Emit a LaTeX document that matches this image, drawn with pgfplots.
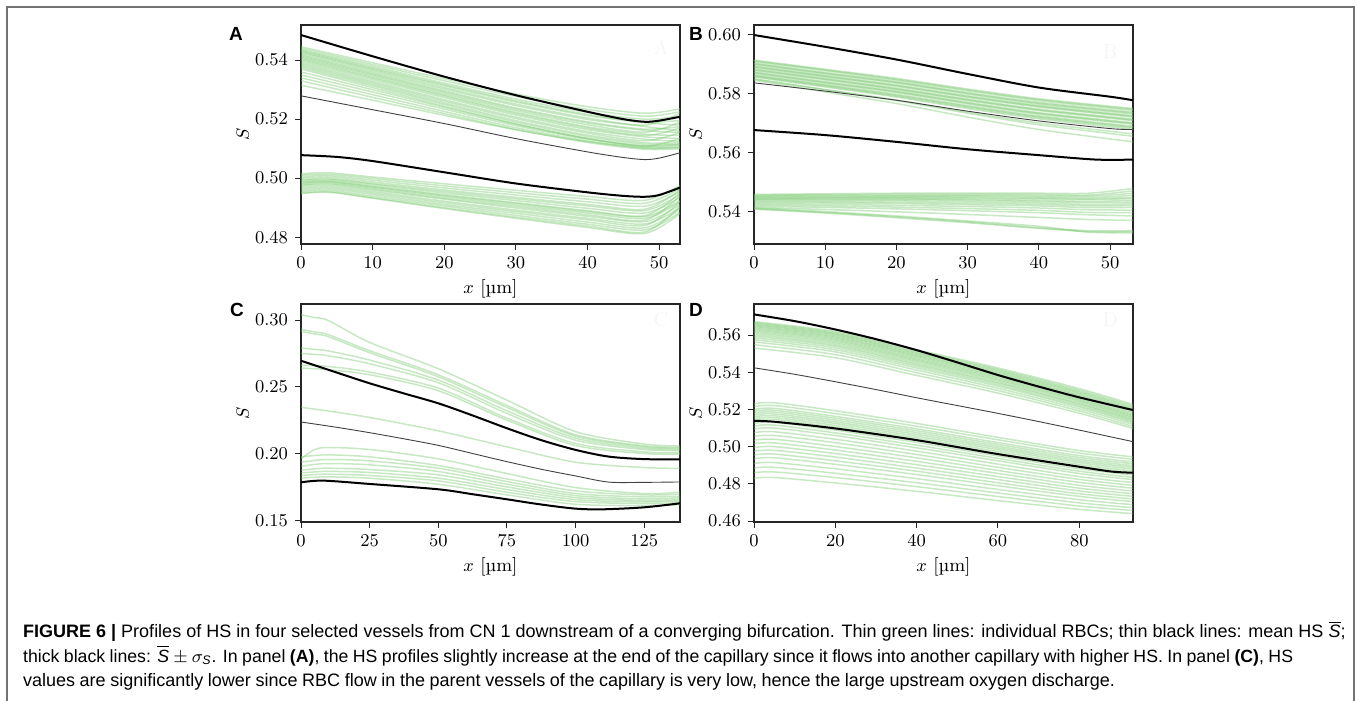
\documentclass[border=0pt]{standalone}
\usepackage{fontspec}
\usepackage{pgfplots}
\usepackage{pgfplotstable}
\pgfplotsset{compat=1.18}
\newfontfamily\capfont{Liberation Sans}
\definecolor{grn}{RGB}{120,200,110}

\pgfplotstableread{
x y1 y2 y3 y4 y5 y6 y7 y8 y9 y10 y11 y12 y13 y14 y15 y16 y17 y18 y19 y20 y21 y22 y23
0 .5445 .5440 .5435 .5432 .5428 .5425 .5420 .5416 .5412 .5408 .5404 .5400 .5395 .5390 .5385 .5380 .5375 .5370 .5360 .5350 .5340 .5330 .5315
10 .5391 .5385 .5379 .5374 .5370 .5366 .5361 .5356 .5352 .5348 .5343 .5339 .5334 .5328 .5323 .5318 .5313 .5307 .5300 .5292 .5283 .5274 .5264
20 .5337 .5330 .5322 .5317 .5313 .5307 .5302 .5296 .5292 .5287 .5282 .5278 .5273 .5266 .5261 .5255 .5250 .5244 .5240 .5234 .5226 .5219 .5213
30 .5285 .5277 .5268 .5262 .5258 .5251 .5246 .5238 .5234 .5229 .5223 .5219 .5214 .5207 .5202 .5195 .5190 .5184 .5183 .5178 .5171 .5165 .5164
40 .5242 .5233 .5223 .5216 .5212 .5204 .5199 .5191 .5187 .5181 .5174 .5170 .5165 .5158 .5153 .5146 .5141 .5134 .5135 .5132 .5126 .5121 .5124
48 .5220 .5210 .5200 .5192 .5188 .5180 .5175 .5166 .5162 .5156 .5149 .5145 .5140 .5132 .5127 .5120 .5115 .5108 .5110 .5108 .5102 .5098 .5103
52.9 .5235 .5225 .5210 .5195 .5180 .5220 .5160 .5175 .5155 .5190 .5145 .5170 .5135 .5125 .5155 .5120 .5115 .5135 .5115 .5110 .5105 .5100 .5105
}\Aup
\pgfplotstableread{
x y1 y2 y3 y4 y5 y6 y7 y8 y9 y10 y11 y12 y13 y14 y15 y16 y17
0 .5015 .5010 .5005 .5000 .4995 .4992 .4988 .4985 .4982 .4978 .4975 .4970 .4965 .4960 .4955 .4950 .4948
4 .5018 .5013 .5008 .5003 .4998 .4995 .4991 .4988 .4986 .4982 .4979 .4974 .4969 .4964 .4959 .4954 .4952
10 .5004 .4999 .4993 .4987 .4982 .4979 .4974 .4971 .4968 .4964 .4960 .4955 .4950 .4945 .4939 .4934 .4932
20 .4981 .4974 .4967 .4960 .4955 .4950 .4944 .4941 .4937 .4932 .4929 .4922 .4917 .4911 .4906 .4900 .4897
30 .4959 .4951 .4943 .4935 .4930 .4924 .4917 .4914 .4909 .4904 .4899 .4892 .4887 .4881 .4874 .4868 .4864
40 .4938 .4929 .4920 .4911 .4906 .4898 .4890 .4887 .4882 .4876 .4871 .4864 .4859 .4851 .4844 .4838 .4833
48 .4925 .4915 .4905 .4895 .4890 .4882 .4873 .4870 .4864 .4858 .4853 .4845 .4840 .4832 .4825 .4818 .4813
52.9 .4975 .4965 .4955 .4960 .4945 .4935 .4950 .4925 .4920 .4940 .4910 .4900 .4920 .4895 .4885 .4905 .4880
}\Alo
\pgfplotstableread{
x y1 y2 y3 y4 y5 y6 y7 y8 y9 y10 y11 y12 y13 y14 y15 y16 y17 y18 y19 y20 y21 y22
0 .5913 .5908 .5903 .5898 .5893 .5888 .5883 .5878 .5873 .5868 .5863 .5858 .5856 .5850 .5845 .5848 .59105 .59005 .58905 .58805 .58705 .58605
10 .5882 .5877 .5871 .5866 .5861 .5856 .5851 .5846 .5840 .5835 .5830 .5825 .5822 .5813 .5805 .5813 .58795 .58685 .58585 .58485 .58375 .58275
20 .5851 .5845 .5840 .5835 .5829 .5824 .5818 .5813 .5808 .5803 .5797 .5791 .5788 .5776 .5766 .5778 .5848 .58375 .58265 .58155 .58055 .5794
30 .5815 .5809 .5803 .5798 .5792 .5787 .5781 .5776 .5770 .5765 .5759 .5753 .5749 .5733 .5720 .5737 .5812 .58005 .57895 .57785 .57675 .5756
40 .5782 .5776 .5770 .5764 .5759 .5754 .5747 .5742 .5735 .5730 .5724 .5718 .5714 .5694 .5678 .5700 .5779 .5767 .57565 .57445 .57325 .5721
53.2 .5749 .5743 .5737 .5731 .5725 .5720 .5713 .5708 .5701 .5696 .5689 .5683 .5678 .5655 .5636 .5663 .5746 .5734 .57225 .57105 .56985 .5686
}\Bup
\pgfplotstableread{
x y1 y2 y3 y4 y5 y6 y7 y8 y9 y10 y11 y12 y13 y14 y15 y16 y17 y18
0 .5458 .5455 .5452 .5450 .5447 .5445 .5442 .5440 .5437 .5434 .5430 .5426 .5422 .5418 .5414 .5410 .5412 .5408
10 .5460 .5457 .5454 .5451 .5448 .5446 .5443 .5440 .5437 .5433 .5429 .5424 .5419 .5414 .5407 .5397 .5400 .5395
20 .5462 .5458 .5455 .5452 .5449 .5446 .5443 .5440 .5436 .5431 .5427 .5421 .5415 .5409 .5399 .5382 .5385 .5379
30 .5462 .5458 .5455 .5452 .5448 .5445 .5441 .5438 .5433 .5428 .5423 .5417 .5410 .5403 .5390 .5365 .5368 .5362
40 .5462 .5458 .5454 .5450 .5446 .5443 .5438 .5434 .5429 .5424 .5419 .5412 .5404 .5396 .5380 .5345 .5350 .5343
47 .5462 .5456 .5452 .5447 .5443 .5440 .5434 .5430 .5424 .5419 .5413 .5406 .5397 .5389 .5373 .5335 .5330 .5332
53.2 .5478 .5470 .5462 .5455 .5448 .5444 .5438 .5432 .5426 .5420 .5414 .5405 .5396 .5385 .5370 .5335 .5328 .5332
}\Blo
\pgfplotstableread{
x y1 y2 y3 y4 y5 y6 y7 y8 y9 y10 y11 y12 y13 y14 y15 y16
0 .3040 .2930 .2915 .2790 .2750 .2663 .2640 .2346 .1960 .1975 .1935 .1905 .1875 .1855 .1835 .1815
5 .3018 .2910 .2895 .2780 .2742 .2658 .2635 .2332 .2030 .1985 .1948 .1918 .1885 .1862 .1842 .1822
10 .2996 .2890 .2875 .2768 .2732 .2652 .2628 .2318 .2045 .1990 .1955 .1925 .1890 .1866 .1845 .1825
25 .2832 .2770 .2755 .2700 .2672 .2610 .2590 .2270 .2030 .1975 .1945 .1915 .1880 .1858 .1835 .1815
50 .2635 .2590 .2575 .2550 .2530 .2490 .2470 .2170 .1960 .1910 .1890 .1865 .1840 .1815 .1795 .1770
75 .2400 .2360 .2345 .2320 .2300 .2265 .2250 .2050 .1850 .1810 .1790 .1770 .1750 .1730 .1710 .1690
100 .2164 .2140 .2130 .2115 .2100 .2075 .2060 .1935 .1745 .1720 .1700 .1685 .1670 .1655 .1640 .1620
125 .2071 .2058 .2050 .2040 .2030 .2012 .2000 .1895 .1700 .1690 .1675 .1660 .1648 .1637 .1625 .1610
138 .2056 .2045 .2038 .2030 .2022 .2005 .1995 .1889 .1710 .1695 .1680 .1668 .1655 .1645 .1632 .1618
}\Cg
\pgfplotstableread{
x y1 y2 y3 y4 y5 y6 y7 y8 y9 y10 y11 y12 y13 y14 y15 y16 y17 y18 y19
0 .5672 .5667 .5662 .5657 .5652 .5647 .5642 .5636 .5630 .5624 .5617 .5610 .5602 .5594 .5585 .5575 .5563 .5548 .5530
20 .5619 .5613 .5608 .5603 .5598 .5592 .5587 .5581 .5575 .5569 .5562 .5555 .5547 .5540 .5531 .5521 .5510 .5495 .5478
40 .5521 .5515 .5509 .5503 .5498 .5492 .5487 .5481 .5474 .5468 .5462 .5455 .5447 .5440 .5432 .5423 .5412 .5398 .5383
60 .5423 .5416 .5410 .5404 .5398 .5392 .5387 .5380 .5374 .5368 .5361 .5355 .5347 .5341 .5333 .5325 .5314 .5302 .5288
80 .5312 .5304 .5297 .5291 .5285 .5278 .5273 .5266 .5259 .5253 .5247 .5241 .5233 .5228 .5220 .5213 .5203 .5192 .5180
93.2 .5227 .5219 .5212 .5205 .5199 .5192 .5186 .5179 .5172 .5166 .5160 .5154 .5147 .5142 .5135 .5128 .5119 .5108 .5098
}\Dup
\pgfplotstableread{
x y1 y2 y3 y4 y5 y6 y7 y8 y9 y10 y11 y12 y13 y14 y15 y16 y17 y18 y19 y20 y21 y22 y23 y24
0 .5230 .5215 .5200 .5190 .5180 .5170 .5160 .5150 .5140 .5125 .5110 .5095 .5075 .5055 .5035 .5015 .4995 .4975 .4955 .4935 .4910 .4885 .4860 .4830
5 .5236 .5221 .5206 .5196 .5186 .5176 .5166 .5156 .5146 .5131 .5116 .5100 .5080 .5060 .5040 .5020 .5000 .4980 .4960 .4940 .4914 .4889 .4864 .4834
20 .5193 .5178 .5163 .5153 .5143 .5133 .5124 .5114 .5104 .5089 .5074 .5060 .5040 .5021 .5001 .4982 .4963 .4944 .4924 .4905 .4881 .4857 .4834 .4805
40 .5125 .5110 .5096 .5086 .5076 .5066 .5056 .5046 .5037 .5023 .5008 .4994 .4976 .4958 .4940 .4921 .4903 .4885 .4868 .4850 .4828 .4806 .4785 .4760
60 .5050 .5037 .5022 .5012 .5002 .4993 .4984 .4974 .4964 .4950 .4937 .4924 .4906 .4889 .4872 .4856 .4839 .4823 .4806 .4790 .4770 .4751 .4732 .4710
80 .4979 .4966 .4952 .4942 .4932 .4923 .4914 .4904 .4894 .4881 .4868 .4856 .4839 .4824 .4808 .4792 .4777 .4762 .4747 .4733 .4715 .4698 .4681 .4663
93.2 .4945 .4932 .4918 .4908 .4898 .4889 .4880 .4870 .4861 .4848 .4835 .4823 .4807 .4792 .4777 .4762 .4747 .4733 .4719 .4705 .4688 .4672 .4657 .4640
}\Dlo

\pgfplotsset{
  panel/.style={scale only axis, width=189.5pt, anchor=north west,
    axis line style={black!85, line width=0.6pt},
    tick style={black!85, line width=0.5pt},
    major tick length=3pt, tick align=outside, tick pos=left,
    ticklabel style={font=\fontsize{9.3}{11}\selectfont},
    label style={font=\fontsize{9.3}{11}\selectfont},
    yticklabel style={/pgf/number format/.cd, fixed, fixed zerofill, precision=2},
    scaled y ticks=false,
    xlabel={$x$ [µm]}, ylabel={$S$},
    xlabel style={yshift=1.5pt},
    ylabel style={at={(axis description cs:-0.154,0.5)}, anchor=center}},
  g/.style={grn, opacity=0.42, line width=0.75pt, smooth, no markers},
  thk/.style={black, line width=1pt, smooth, no markers},
  thn/.style={black!75, line width=0.45pt, smooth, no markers},
}
\tikzset{wm/.style={text=black!4, font=\fontsize{10}{12}\selectfont}}

\begin{document}
\begin{tikzpicture}
\path[use as bounding box] (0,0) rectangle (678.5pt,-350.5pt);
\draw[black!55, line width=0.75pt] (3.5pt,-350.5pt) -- (3.5pt,-3.5pt) -- (677pt,-3.5pt) -- (677pt,-350.5pt);

% Panel A
\begin{axis}[panel, at={(150.5pt,-12.5pt)}, height=109.5pt,
  xmin=0, xmax=52.9, ymin=0.4777, ymax=0.5519,
  xtick={0,10,20,30,40,50}, ytick={0.48,0.50,0.52,0.54}]
\pgfplotsinvokeforeach{1,...,23}{\addplot[g] table[x=x,y=y#1]{\Aup};}
\pgfplotsinvokeforeach{1,...,17}{\addplot[g] table[x=x,y=y#1]{\Alo};}
\addplot[thk] coordinates {(0,.5485) (10,.5413) (20,.5344) (30,.5281) (40,.5225) (45,.5200) (48,.5191) (50,.5195) (52.9,.5208)};
\addplot[thn] coordinates {(0,.5279) (10,.5232) (20,.5185) (30,.5134) (40,.5089) (45,.5070) (48,.5063) (50,.5068) (52.9,.5086)};
\addplot[thk] coordinates {(0,.5078) (5,.5072) (10,.5058) (20,.5020) (30,.4982) (40,.4952) (45,.4940) (48,.4937) (50,.4943) (52.9,.4968)};
\node[wm] at (rel axis cs:0.95,0.9) {A};
\end{axis}

% Panel B
\begin{axis}[panel, at={(377pt,-12.5pt)}, height=109.5pt,
  xmin=0, xmax=53.2, ymin=0.529, ymax=0.6032,
  xtick={0,10,20,30,40,50}, ytick={0.54,0.56,0.58,0.60}]
\pgfplotsinvokeforeach{1,...,22}{\addplot[g] table[x=x,y=y#1]{\Bup};}
\pgfplotsinvokeforeach{1,...,18}{\addplot[g] table[x=x,y=y#1]{\Blo};}
\addplot[thk] coordinates {(0,.5998) (10,.5958) (20,.5915) (30,.5866) (40,.5820) (50,.5789) (53.2,.5777)};
\addplot[thn] coordinates {(0,.5836) (10,.5808) (20,.5777) (30,.5740) (40,.5707) (50,.5681) (53.2,.5678)};
\addplot[thk] coordinates {(0,.5676) (10,.5659) (20,.5636) (30,.5611) (40,.5591) (48,.5576) (53.2,.5576)};
\node[wm] at (rel axis cs:0.94,0.88) {B};
\end{axis}

% Panel C
\begin{axis}[panel, at={(150.5pt,-152pt)}, height=109pt,
  xmin=0, xmax=138, ymin=0.1487, ymax=0.312,
  xtick={0,25,50,75,100,125}, ytick={0.15,0.20,0.25,0.30}]
\pgfplotsinvokeforeach{1,...,16}{\addplot[g] table[x=x,y=y#1]{\Cg};}
\addplot[thk] coordinates {(0,.2695) (12.5,.2610) (25,.2526) (37.5,.2450) (50,.2376) (62.5,.2285) (75,.2189) (87.5,.2100) (100,.2027) (112,.1977) (125,.1958) (138,.1957)};
\addplot[thn] coordinates {(0,.2236) (12.5,.2198) (25,.2156) (37.5,.2110) (50,.2061) (62.5,.2000) (75,.1939) (87.5,.1882) (100,.1832) (112,.1786) (125,.1784) (138,.1787)};
\addplot[thk] coordinates {(0,.1784) (8,.1797) (25,.1772) (50,.1732) (62.5,.1695) (75,.1657) (87.5,.1618) (100,.1587) (110,.1582) (125,.1597) (138,.1627)};
\node[wm] at (rel axis cs:0.95,0.93) {C};
\end{axis}

% Panel D
\begin{axis}[panel, at={(377pt,-152pt)}, height=109pt,
  xmin=0, xmax=93.2, ymin=0.4595, ymax=0.5767,
  xtick={0,20,40,60,80}, ytick={0.46,0.48,0.50,0.52,0.54,0.56}]
\pgfplotsinvokeforeach{1,...,19}{\addplot[g] table[x=x,y=y#1]{\Dup};}
\pgfplotsinvokeforeach{1,...,24}{\addplot[g] table[x=x,y=y#1]{\Dlo};}
\addplot[thk] coordinates {(0,.5711) (10,.5675) (20,.5630) (30,.5578) (40,.5519) (50,.5453) (60,.5385) (70,.5323) (80,.5265) (93.2,.5197)};
\addplot[thn] coordinates {(0,.5424) (10,.5389) (20,.5349) (30,.5307) (40,.5263) (50,.5221) (60,.5179) (70,.5135) (80,.5089) (93.2,.5027)};
\addplot[thk] coordinates {(0,.5138) (5,.5134) (20,.5098) (40,.5035) (60,.4960) (80,.4892) (88,.4866) (93.2,.4860)};
\node[wm] at (rel axis cs:0.94,0.93) {D};
\end{axis}

% panel letters
\begin{scope}[every node/.style={font=\capfont\bfseries\fontsize{9.5}{11}\selectfont}]
\node at (118pt,-17pt) {A};
\node at (348pt,-17pt) {B};
\node at (118.5pt,-155pt) {C};
\node at (348pt,-155pt) {D};
\end{scope}

% caption
\begin{scope}[every node/.style={anchor=base west, inner sep=0pt, font=\capfont\fontsize{9}{10}\selectfont}]
\node at (11.35pt,-318.75pt) {\makebox[661.3pt][s]{\textbf{FIGURE 6 |} Profiles of HS in four selected vessels from CN 1 downstream of a converging bifurcation. Thin green lines: individual RBCs; thin black lines: mean HS $\overline{\mbox{\itshape S}}$;}};
\node at (11.35pt,-331pt) {\fontsize{8.85}{10}\selectfont\makebox[635pt][s]{thick black lines: $\overline{\mbox{\itshape S}}\mkern4mu{\pm}\mkern4mu\sigma_{\mbox{\fontsize{6.2}{7}\selectfont\itshape S}}$. In panel \textbf{(A)}, the HS profiles slightly increase at the end of the capillary since it flows into another capillary with higher HS. In panel \textbf{(C)}, HS}};
\node at (11.35pt,-343.25pt) {\makebox[546pt][s]{values are significantly lower since RBC flow in the parent vessels of the capillary is very low, hence the large upstream oxygen discharge.}};
\end{scope}
\end{tikzpicture}
\end{document}
